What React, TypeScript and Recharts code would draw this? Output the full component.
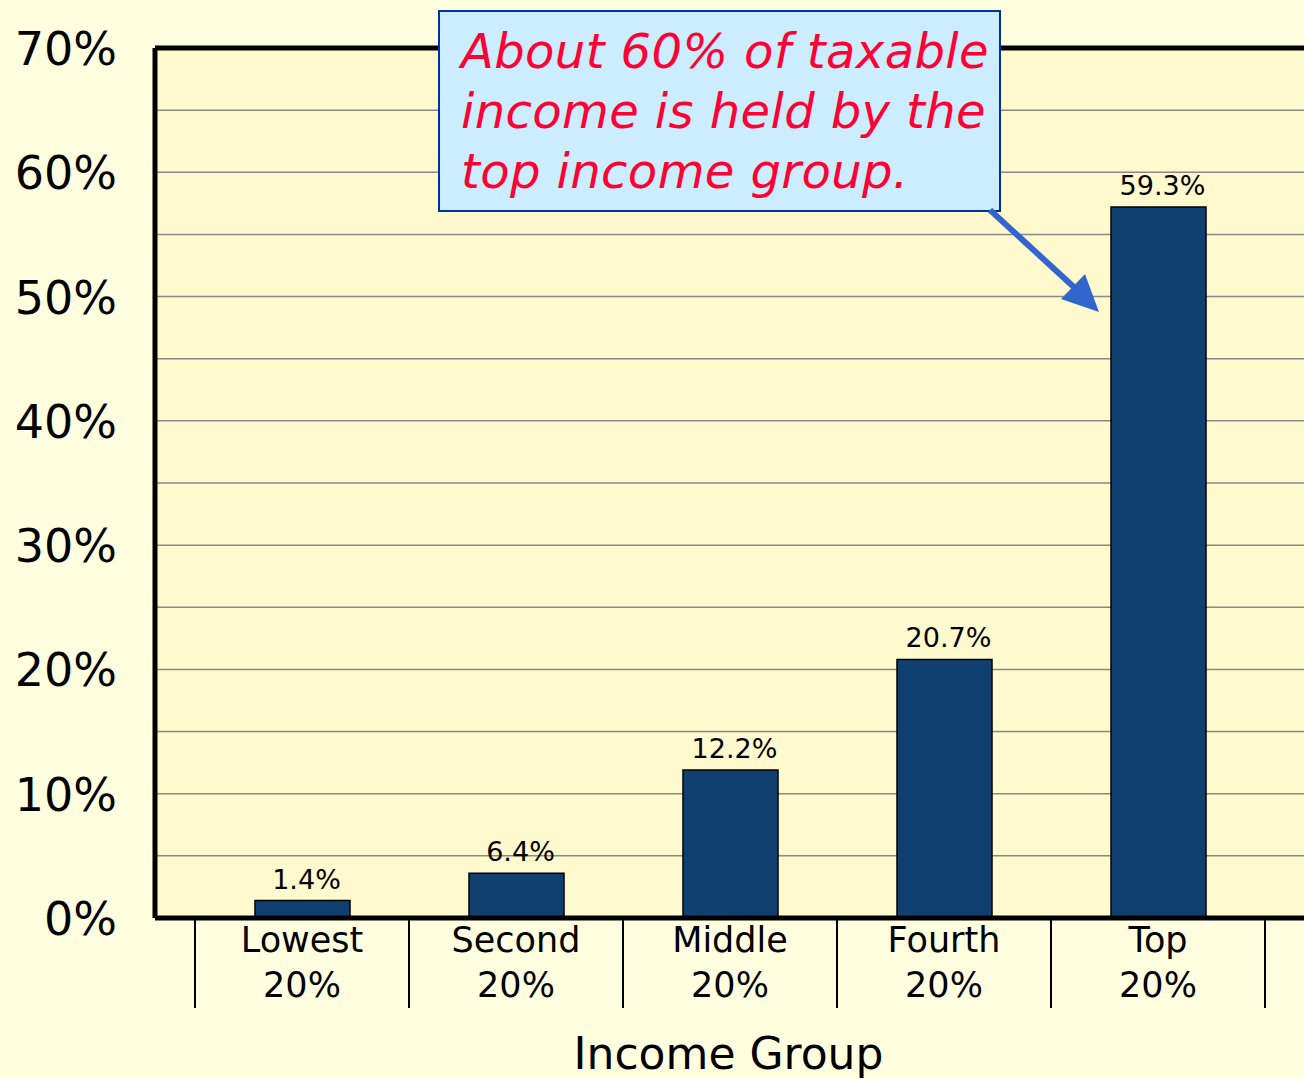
import React from "react";
import {
  BarChart,
  Bar,
  XAxis,
  YAxis,
  CartesianGrid,
  LabelList,
  Label,
  ReferenceLine,
} from "recharts";

const categories = ["Lowest", "Second", "Middle", "Fourth", "Top"];
const groupSizes = ["20%", "20%", "20%", "20%", "20%"];
// bar heights as drawn in the picture
const barHeights = [1.4, 3.6, 11.9, 20.8, 57.2];
// value labels as printed above the bars
const barLabels = ["1.4%", "6.4%", "12.2%", "20.7%", "59.3%"];
const yTicks = [0, 5, 10, 15, 20, 25, 30, 35, 40, 45, 50, 55, 60, 65, 70];
const yLabelled = [0, 10, 20, 30, 40, 50, 60, 70];

const FONT = "'DejaVu Sans', Verdana, sans-serif";
const BAND = 214;

const data = categories.map((c, i) => ({
  name: c,
  group: groupSizes[i],
  value: barHeights[i],
  label: barLabels[i],
}));

function XTick(props: any) {
  const { x, y, payload, index } = props;
  const d = data[index] || data.find((r) => r.name === payload.value);
  return (
    <g>
      <line x1={x - BAND / 2} x2={x - BAND / 2} y1={y + 2} y2={y + 90} stroke="#000" strokeWidth={2} />
      {index === categories.length - 1 && (
        <line x1={x + BAND / 2} x2={x + BAND / 2} y1={y + 2} y2={y + 90} stroke="#000" strokeWidth={2} />
      )}
      <text x={x} y={y + 34} textAnchor="middle" fontSize={35} fill="#000" fontFamily={FONT}>
        {payload.value}
      </text>
      <text x={x} y={y + 79} textAnchor="middle" fontSize={35} fill="#000" fontFamily={FONT}>
        {d ? d.group : ""}
      </text>
    </g>
  );
}

function YTick(props: any) {
  const { x, y, payload } = props;
  if (!yLabelled.includes(payload.value)) return null;
  return (
    <text x={x - 38} y={y + 17} textAnchor="end" fontSize={46} fill="#000" fontFamily={FONT}>
      {payload.value + "%"}
    </text>
  );
}

export default function App() {
  return (
    <div
      style={{
        position: "absolute",
        left: 0,
        top: 0,
        width: 1304,
        height: 1079,
        overflow: "hidden",
        background: "#FFFFE0",
        fontFamily: FONT,
      }}
    >
      <BarChart
        width={1340}
        height={1079}
        data={data}
        margin={{ top: 48, right: 30, left: 0, bottom: 0 }}
      >
        <CartesianGrid vertical={false} stroke="#888" strokeWidth={1.5} fill="#FFFACD" />
        <XAxis
          dataKey="name"
          height={161}
          tickLine={false}
          tickSize={0}
          tickMargin={0}
          axisLine={{ stroke: "#000", strokeWidth: 5 }}
          padding={{ left: 40, right: 45 }}
          tick={<XTick />}
          interval={0}
        >
          <Label
            content={(p: any) => {
              const vb = p.viewBox;
              return (
                <text
                  x={vb.x + vb.width / 2 - 4}
                  y={vb.y + 151}
                  textAnchor="middle"
                  fontSize={44}
                  fill="#000"
                  fontFamily={FONT}
                >
                  Income Group
                </text>
              );
            }}
          />
        </XAxis>
        <YAxis
          width={155}
          domain={[0, 70]}
          ticks={yTicks}
          interval={0}
          tickLine={false}
          tickSize={0}
          tickMargin={0}
          axisLine={{ stroke: "#000", strokeWidth: 5 }}
          tick={<YTick />}
        />
        <ReferenceLine y={70} stroke="#000" strokeWidth={5} />
        <Bar
          dataKey="value"
          fill="#10406F"
          stroke="#000"
          strokeWidth={1.5}
          barSize={95}
          isAnimationActive={false}
        >
          <LabelList
            dataKey="label"
            content={(p: any) => (
              <text
                x={p.x + p.width / 2 + 4}
                y={p.y - 12}
                textAnchor="middle"
                fontSize={27}
                fill="#000"
                fontFamily={FONT}
              >
                {p.value}
              </text>
            )}
          />
        </Bar>
      </BarChart>

      {/* callout */}
      <div
        style={{
          position: "absolute",
          left: 438,
          top: 10,
          width: 563,
          height: 202,
          background: "#CCECFF",
          border: "2px solid #003399",
          color: "#FF0033",
          fontStyle: "italic",
          fontSize: 48,
          letterSpacing: 0.4,
          lineHeight: "60px",
          padding: "9px 0 0 21px",
          boxSizing: "border-box",
          whiteSpace: "nowrap",
        }}
      >
        About 60% of taxable
        <br />
        income is held by the
        <br />
        top income group.
      </div>
      <svg
        width={1304}
        height={1079}
        style={{ position: "absolute", left: 0, top: 0, pointerEvents: "none" }}
      >
        <line x1={990} y1={210} x2={1076} y2={289} stroke="#3366CC" strokeWidth={6} />
        <polygon points="1061,299 1085,274 1099,312" fill="#3366CC" />
      </svg>
    </div>
  );
}
